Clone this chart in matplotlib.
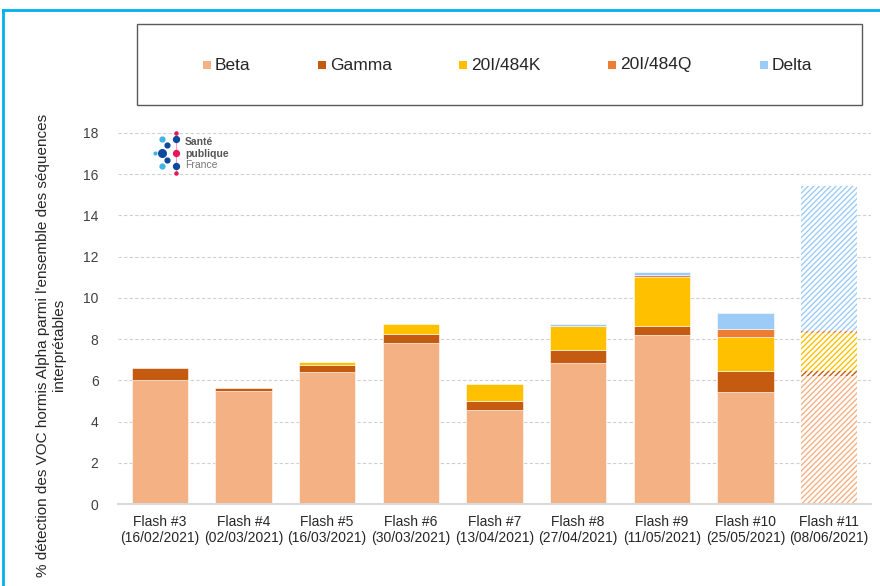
import matplotlib
matplotlib.use("Agg")
import matplotlib.pyplot as plt
from matplotlib.patches import Rectangle
from matplotlib.lines import Line2D
import numpy as np

plt.rcParams['font.family'] = ['Liberation Sans', 'DejaVu Sans']
plt.rcParams['hatch.linewidth'] = 1.0

categories = ["Flash #3\n(16/02/2021)", "Flash #4\n(02/03/2021)", "Flash #5\n(16/03/2021)",
              "Flash #6\n(30/03/2021)", "Flash #7\n(13/04/2021)", "Flash #8\n(27/04/2021)",
              "Flash #9\n(11/05/2021)", "Flash #10\n(25/05/2021)", "Flash #11\n(08/06/2021)"]
series_names = ["Beta", "Gamma", "20I/484K", "20I/484Q", "Delta"]
beta =    [6.0, 5.48, 6.42, 7.82, 4.58, 6.86, 8.19, 5.45, 6.22]
gamma =   [0.62, 0.14, 0.33, 0.42, 0.44, 0.62, 0.43, 1.02, 0.25]
k484 =    [0.0, 0.0, 0.13, 0.50, 0.81, 1.14, 2.37, 1.62, 1.85]
q484 =    [0.0, 0.0, 0.0, 0.0, 0.0, 0.0, 0.11, 0.39, 0.05]
delta =   [0.0, 0.0, 0.0, 0.0, 0.0, 0.13, 0.16, 0.81, 7.08]
hatched = [False]*8 + [True]
colors = ["#F4B183", "#C55A11", "#FFC000", "#ED7D31", "#9DCBF8"]
yticks = [0, 2, 4, 6, 8, 10, 12, 14, 16, 18]

W, H = 880, 586
fig = plt.figure(figsize=(W/100, H/100), dpi=100)
ax = fig.add_axes([118/W, 1-504/H, 753/W, 371/H])

x = np.arange(len(categories))
bottom = np.zeros(len(categories))
data = [beta, gamma, k484, q484, delta]
for vals, col in zip(data, colors):
    vals = np.array(vals)
    for i in range(len(x)):
        if vals[i] <= 0:
            continue
        if hatched[i]:
            ax.bar(x[i], vals[i], width=0.67, bottom=bottom[i], facecolor='white',
                   edgecolor=col, hatch='//////', linewidth=0, zorder=3)
        else:
            ax.bar(x[i], vals[i], width=0.67, bottom=bottom[i], color=col,
                   edgecolor='white', linewidth=0.4, zorder=3)
    bottom += vals

ax.set_xlim(-0.5, len(categories)-0.5)
ax.set_ylim(0, 18)
ax.set_yticks(yticks)
ax.set_xticks(x)
ax.set_xticklabels(categories, fontsize=10, color='#262626')
ax.tick_params(axis='both', length=0, labelsize=10)
ax.tick_params(axis='y', colors='#404040', pad=14)
ax.tick_params(axis='x', pad=8)
ax.grid(axis='y', color='#D0D0D0', linestyle=(0, (3, 2)), linewidth=0.8, zorder=0)
for s in ['top', 'right', 'left']:
    ax.spines[s].set_visible(False)
ax.spines['bottom'].set_color('#D9D9D9')
ax.spines['bottom'].set_linewidth(1.5)
ax.spines['bottom'].set_zorder(4)

fig.text(51/W, 1-345/H,
         "% détection des VOC hormis Alpha parmi l'ensemble des séquences\ninterprétables",
         rotation=90, ha='center', va='center', fontsize=11, color='#262626',
         multialignment='center', linespacing=1.2)

# legend box
fig.patches.append(Rectangle((137/W, 1-105/H), (862-137)/W, (105-24)/H,
                             transform=fig.transFigure, facecolor='none',
                             edgecolor='#595959', linewidth=1.0))
mx = [203, 318, 459, 608, 760]
for name, col, m in zip(series_names, colors, mx):
    fig.patches.append(Rectangle((m/W, 1-69/H), 8/W, 8/H, transform=fig.transFigure,
                                 facecolor=col, edgecolor='none'))
    fig.text((m+12)/W, 1-65/H, name, ha='left', va='center', fontsize=12.5, color='#262626')

# outer blue frame
fig.add_artist(Line2D([3/W, 1.0], [1-10/H, 1-10/H], transform=fig.transFigure,
                      color='#00B0F0', linewidth=2))
fig.add_artist(Line2D([3/W, 3/W], [0, 1-10/H], transform=fig.transFigure,
                      color='#00B0F0', linewidth=2))

# logo
lx = [176, 176, 161.7, 161.7, 161.7, 155, 166.7, 166.7, 176, 176, 176]
ly = [133.3, 173.3, 139, 165.7, 152.7, 152.7, 145, 160.3, 139, 152.7, 165.7]
ls = [5, 5, 12, 12, 30, 4, 12, 12, 18, 18, 18]
lc = ['#E6185A', '#E6185A', '#3FB4E8', '#3FB4E8', '#0B4A9E', '#3FB4E8',
      '#0B4A9E', '#0B4A9E', '#0B4A9E', '#E6185A', '#0B4A9E']
fig.add_artist(Line2D([176/W, 176/W], [1-133/H, 1-173/H], transform=fig.transFigure,
                      color='#F3A0BA', linewidth=0.8))
for px, py, s, c in zip(lx, ly, ls, lc):
    fig.add_artist(Line2D([px/W], [1-py/H], transform=fig.transFigure, marker='o',
                          markersize=np.sqrt(s), color=c, linestyle='none'))
fig.text(185/W, 1-142/H, "Santé", fontsize=7.5, fontweight='bold', color='#555555', va='center')
fig.text(185/W, 1-153.5/H, "publique", fontsize=7.5, fontweight='bold', color='#555555', va='center')
fig.text(185/W, 1-165/H, "France", fontsize=7.5, color='#777777', va='center')

fig.savefig("out.png", dpi=100)
